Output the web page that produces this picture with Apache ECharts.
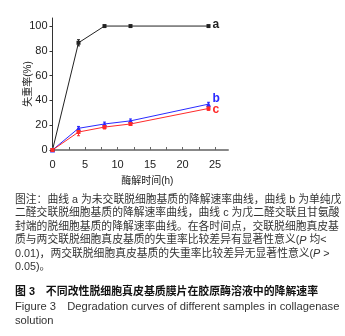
<!DOCTYPE html>
<html>
<head>
<meta charset="utf-8">
<script src="https://cdn.jsdelivr.net/npm/echarts@6/dist/echarts.min.js"></script>
<style>
  html, body { margin: 0; padding: 0; background: #fff; }
  #chart { width: 345px; height: 336px; }
</style>
</head>
<body>
<div id="chart"></div>
<script>
// 酶解时间 (h)
const times = [0, 4, 8, 12, 24]
// 失重率 (%)
const lossA = [0, 86.5, 100, 100, 100]
const lossB = [0, 17.5, 21, 23.5, 37]
const lossC = [0, 14.5, 18.5, 21, 33.5]
// 误差
const errA = [0, 2.5, 0.5, 0.5, 0.5]
const errB = [0, 1.5, 1.5, 1.5, 1.5]
const errC = [0, 3, 1.5, 1, 1.5]

const yTicks = [0, 20, 40, 60, 80, 100]
const xLabels = [0, 5, 10, 15, 20, 25]
const xTicks = [0, 2.5, 5, 7.5, 10, 12.5, 15, 17.5, 20, 22.5, 25]

const captionLines = [
  '图注：曲线 a 为未交联脱细胞基质的降解速率曲线，曲线 b 为单纯戊',
  '二醛交联脱细胞基质的降解速率曲线，曲线 c 为戊二醛交联且甘氨酸',
  '封端的脱细胞基质的降解速率曲线。在各时间点，交联脱细胞真皮基',
  '质与两交联脱细胞真皮基质的失重率比较差异有显著性意义({i|P} 均<',
  '0.01)，两交联脱细胞真皮基质的失重率比较差异无显著性意义({i|P} >',
  '0.05)。',
]
const figTitleCn = '图 3　不同改性脱细胞真皮基质膜片在胶原酶溶液中的降解速率'
const figTitleEn = ['Figure 3　Degradation curves of different samples in collagenase', 'solution']

const pairs = (ys) => times.map((t, i) => [t, ys[i]])
const errPairs = (ys, es) => times.map((t, i) => [t, ys[i] - es[i], ys[i] + es[i]])

const errorSeries = (ys, es, color) => ({
  type: 'custom',
  data: errPairs(ys, es),
  z: 3,
  silent: true,
  renderItem: (params, api) => {
    const lo = api.coord([api.value(0), api.value(1)])
    const hi = api.coord([api.value(0), api.value(2)])
    const cap = 1.5
    const style = { stroke: color, lineWidth: 1 }
    return {
      type: 'group',
      children: [
        { type: 'line', shape: { x1: lo[0], y1: lo[1], x2: hi[0], y2: hi[1] }, style },
        { type: 'line', shape: { x1: lo[0] - cap, y1: lo[1], x2: lo[0] + cap, y2: lo[1] }, style },
        { type: 'line', shape: { x1: hi[0] - cap, y1: hi[1], x2: hi[0] + cap, y2: hi[1] }, style },
      ],
    }
  },
})

const lineSeries = (name, ys, color, symbol, size, offset) => ({
  name,
  type: 'line',
  data: pairs(ys),
  symbol,
  symbolSize: size,
  showAllSymbol: true,
  lineStyle: { color, width: 1 },
  itemStyle: { color },
  z: 4,
  endLabel: {
    show: true,
    formatter: name,
    color,
    fontSize: 12,
    fontWeight: 'bold',
    fontFamily: 'Liberation Sans, Arial',
    distance: 4,
    offset,
  },
})

const textFont = 'Liberation Sans, "Noto Sans CJK SC", sans-serif'
const captionY = [200, 213.5, 227, 240.5, 254, 267, 280]
const graphics = captionLines.map((t, i) => ({
  type: 'text',
  x: 15,
  y: captionY[i],
  style: {
    text: t,
    fill: '#333',
    font: '10.8px ' + textFont,
    verticalAlign: 'middle',
    rich: { i: { fontStyle: 'italic', fontSize: 10.8, fontFamily: 'Liberation Sans', fill: '#333' } },
  },
}))
graphics.push({
  type: 'text',
  x: 15,
  y: 292,
  style: { text: figTitleCn, fill: '#111', font: 'bold 10.9px ' + textFont, verticalAlign: 'middle' },
})
figTitleEn.forEach((t, i) => {
  graphics.push({
    type: 'text',
    x: 15,
    y: 307 + i * 13.5,
    style: { text: t, fill: '#333', font: '11.2px ' + textFont, verticalAlign: 'middle' },
  })
})

const chart = echarts.init(document.getElementById('chart'))
chart.setOption({
  animation: false,
  grid: { left: 52.5, right: 117, top: 18, bottom: 186, containLabel: false },
  xAxis: {
    type: 'value',
    min: 0,
    max: 27,
    interval: 2.5,
    name: '酶解时间(h)',
    nameLocation: 'middle',
    nameGap: 26,
    nameTextStyle: { fontSize: 10, color: '#222', fontFamily: textFont, padding: [0, 0, 0, 14] },
    splitLine: { show: false },
    axisLine: { lineStyle: { color: '#888', width: 2 } },
    axisTick: { inside: true, length: 3, customValues: xTicks, lineStyle: { color: '#666' } },
    axisLabel: { customValues: xLabels, color: '#222', fontSize: 11, margin: 9, fontFamily: 'Liberation Sans, Arial' },
  },
  yAxis: {
    type: 'value',
    min: 0,
    max: 106.5,
    interval: 20,
    name: '失重率(%)',
    nameLocation: 'middle',
    nameGap: 19,
    nameMoveOverlap: false,
    nameTextStyle: { fontSize: 10, color: '#222', fontFamily: textFont },
    splitLine: { show: false },
    axisLine: { lineStyle: { color: '#333', width: 1 } },
    axisTick: { length: 3, customValues: yTicks, lineStyle: { color: '#333' } },
    axisLabel: { customValues: yTicks, color: '#222', fontSize: 11, margin: 5, fontFamily: 'Liberation Sans, Arial' },
  },
  series: [
    lineSeries('a', lossA, '#222', 'rect', 4, [0, -1]),
    lineSeries('b', lossB, '#2a2aff', 'triangle', 5, [0, -5]),
    lineSeries('c', lossC, '#ff2a2a', 'rect', 4, [0, 1]),
    errorSeries(lossA, errA, '#222'),
    errorSeries(lossB, errB, '#2a2aff'),
    errorSeries(lossC, errC, '#ff2a2a'),
  ],
  graphic: graphics,
})
</script>
</body>
</html>
